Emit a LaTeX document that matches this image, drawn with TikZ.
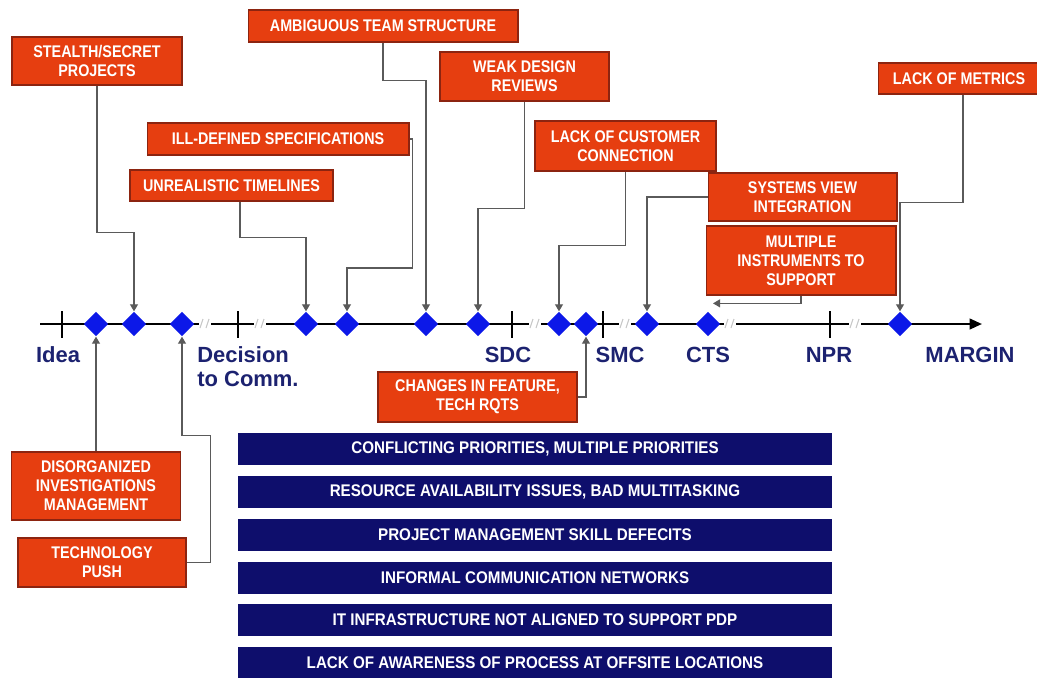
\documentclass[tikz,border=0pt]{standalone}
\usepackage{fontspec}
\setmainfont{Liberation Sans}
\newfontfamily\boxfont[FakeStretch=0.85]{Liberation Sans}
\newfontfamily\issuefont[FakeStretch=0.9]{Liberation Sans}
\usetikzlibrary{shapes.geometric,arrows.meta,calc}
\definecolor{probred}{RGB}{230,62,16}
\definecolor{probedge}{RGB}{140,36,16}
\definecolor{issuenavy}{RGB}{14,14,108}
\definecolor{gatenavy}{RGB}{28,34,112}
\definecolor{msblue}{RGB}{12,24,232}
\definecolor{connect}{RGB}{90,90,90}
\begin{document}
\begin{tikzpicture}[x=0.02cm,y=-0.02cm,
    probbox/.style={draw=probedge,fill=probred,text=white,align=center,inner sep=0pt,line width=0.6pt,
      font=\boxfont\bfseries\fontsize{9.6}{10.8}\selectfont},
    issuebox/.style={fill=issuenavy,text=white,inner sep=0pt,minimum width=11.88cm,minimum height=0.64cm,
      font=\issuefont\bfseries\fontsize{9.6}{10.8}\selectfont},
    gate/.style={text=gatenavy,font=\bfseries\fontsize{12.5}{14}\selectfont,inner sep=0pt},
    milestone/.style={diamond,fill=msblue,inner sep=0pt,minimum width=14pt,minimum height=14pt},
    conn/.style={draw=connect,line width=0.7pt,-{Triangle[length=4pt,width=4.5pt]}}]
\fill[white] (0,0) rectangle (1037,677);
\useasboundingbox (0,0) rectangle (1037,677);

\coordinate (tstart) at (40,324);
\coordinate (tend) at (982,324);
\draw[line width=1.3pt,-{Triangle[length=7pt,width=6pt]}] (tstart) -- (tend);
\foreach \x in {62,238,512,603,830}
  \draw[line width=0.7pt] (\x,311) -- (\x,338);
\foreach \x in {205,260,535,625,730,855} {
  \fill[white] (\x-6,321) rectangle (\x+6,327);
  \draw[gray!45,line width=0.6pt] (\x-5,328) -- (\x-2,319) (\x+1,328) -- (\x+4,319);
}
\foreach \x [count=\i] in {96,134,182,306,347,426,478,559,586,647,708,900}
  \node[milestone] (d\i) at (\x,324) {};

\node[gate] (lidea) at (58,355) {Idea};
\node[gate,anchor=north west,align=left] (ldec) at (197,346) {Decision\\to Comm.};
\node[gate] (lsdc) at (508,355) {SDC};
\node[gate] (lsmc) at (620,355) {SMC};
\node[gate] (lcts) at (708,355) {CTS};
\node[gate] (lnpr) at (829,355) {NPR};
\node[gate] (lmargin) at (970,355) {MARGIN};

\node[probbox,minimum width=3.4cm,minimum height=0.96cm] (stealth) at (97,61) {STEALTH/SECRET\\PROJECTS};
\node[probbox,minimum width=5.4cm,minimum height=0.64cm] (ambig) at (383,26) {AMBIGUOUS TEAM STRUCTURE};
\node[probbox,minimum width=3.38cm,minimum height=0.98cm] (weak) at (524.5,76.5) {WEAK DESIGN\\REVIEWS};
\node[probbox,minimum width=5.24cm,minimum height=0.64cm] (illdef) at (278,139) {ILL-DEFINED SPECIFICATIONS};
\node[probbox,minimum width=4.06cm,minimum height=0.62cm] (unreal) at (231.5,185.5) {UNREALISTIC TIMELINES};
\node[probbox,minimum width=3.62cm,minimum height=1cm] (cust) at (625.5,146) {LACK OF CUSTOMER\\CONNECTION};
\node[probbox,minimum width=3.78cm,minimum height=0.96cm] (sysview) at (802.5,197) {SYSTEMS VIEW\\INTEGRATION};
\node[probbox,minimum width=3.8cm,minimum height=1.38cm] (multi) at (801,260.5) {MULTIPLE\\INSTRUMENTS TO\\SUPPORT};
\node[probbox,minimum width=3.24cm,minimum height=0.62cm] (metrics) at (959,78.5) {LACK OF METRICS};
\node[probbox,minimum width=3.98cm,minimum height=1cm] (changes) at (477.5,397) {CHANGES IN FEATURE,\\TECH RQTS};
\node[probbox,minimum width=3.38cm,minimum height=1.36cm] (disorg) at (96,486) {DISORGANIZED\\INVESTIGATIONS\\MANAGEMENT};
\node[probbox,minimum width=3.36cm,minimum height=0.98cm] (tech) at (102,562.5) {TECHNOLOGY\\PUSH};

\draw[conn] (stealth.south) -- ++(0,147) -| (d2.north);
\draw[conn] ($(unreal.south)+(8.5,0)$) -- ++(0,36) -| (d4.north);
\draw[conn] (illdef.east) -- ++(3,0) -- ++(0,129) -| (d5.north);
\draw[conn] (ambig.south) -- ++(0,38) -| (d6.north);
\draw[conn] (weak.south) -- ++(0,107) -| (d7.north);
\draw[conn] (cust.south) -- ++(0,74) -| (d8.north);
\draw[conn] (sysview.west) -| (d10.north);
\draw[conn] (multi.south) |- ($(d11.north)+(5,-8)$);
\draw[conn] ($(metrics.south)+(4,0)$) -- ++(0,108) -| (d12.north);
\draw[conn] (disorg.north) -- (d1.south);
\draw[conn] (tech.east) -- ++(24,0) -- ++(0,-127) -| (d3.south);
\draw[conn] (changes.east) -| (d9.south);

\node[issuebox] (iss1) at (535,449) {CONFLICTING PRIORITIES, MULTIPLE PRIORITIES};
\node[issuebox] (iss2) at (535,492) {RESOURCE AVAILABILITY ISSUES, BAD MULTITASKING};
\node[issuebox] (iss3) at (535,535) {PROJECT MANAGEMENT SKILL DEFECITS};
\node[issuebox] (iss4) at (535,578) {INFORMAL COMMUNICATION NETWORKS};
\node[issuebox] (iss5) at (535,620) {IT INFRASTRUCTURE NOT ALIGNED TO SUPPORT PDP};
\node[issuebox] (iss6) at (535,663) {LACK OF AWARENESS OF PROCESS AT OFFSITE LOCATIONS};
\end{tikzpicture}
\end{document}
